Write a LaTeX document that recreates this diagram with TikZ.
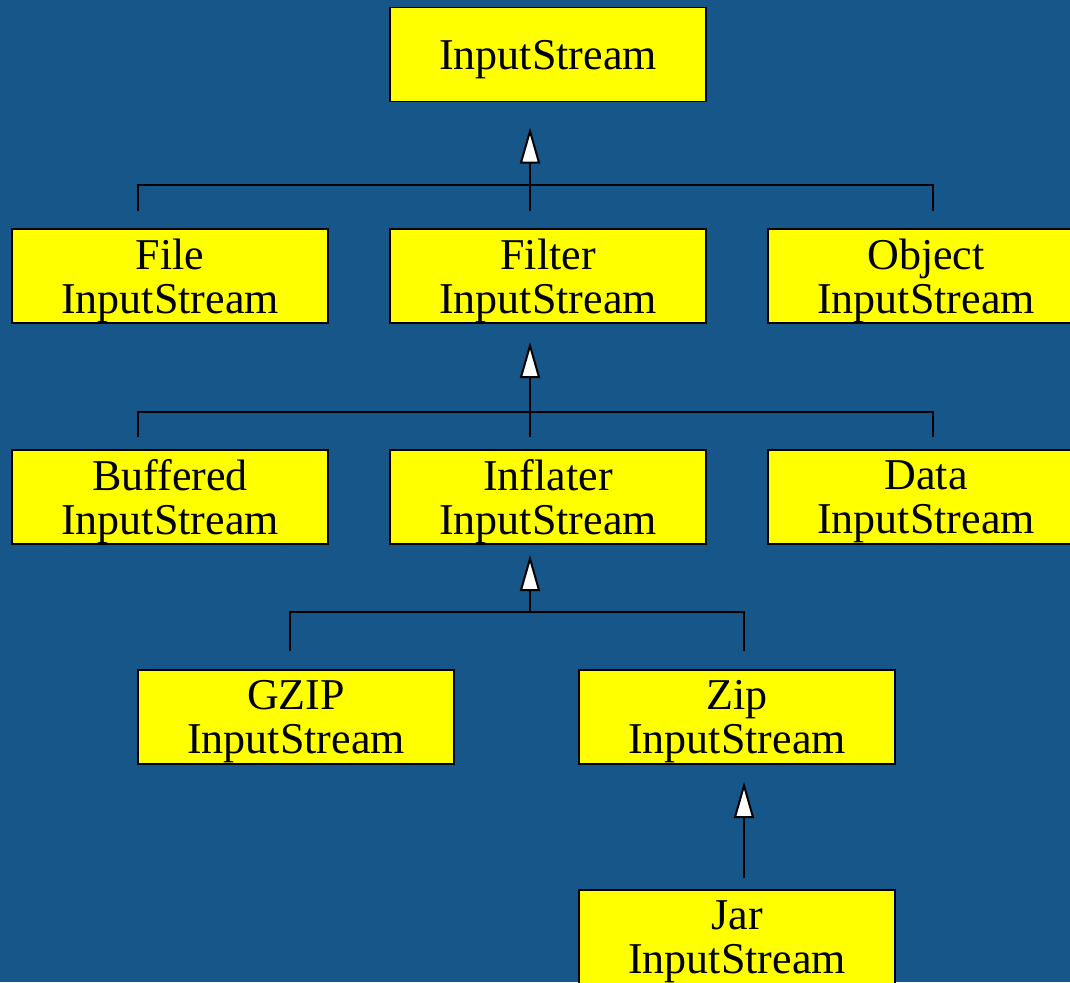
\documentclass[tikz,border=0pt]{standalone}
\usepackage{fontspec}
\setmainfont{Liberation Serif}
\usetikzlibrary{arrows.meta}
\definecolor{bgblue}{RGB}{22,86,136}
\definecolor{clsyellow}{RGB}{255,255,0}
\tikzset{
  cls/.style={draw=black,fill=clsyellow,line width=1.5pt,outer sep=0pt,inner sep=0pt,
    minimum width=316pt,minimum height=94pt,align=center,text depth=-1pt,
    font=\fontsize{44}{44}\selectfont},
  link/.style={line width=2pt},
  inherit/.style={link,-{Triangle[length=36pt,width=20pt,fill=white]}}
}

\begin{document}
\begin{tikzpicture}[x=1pt,y=1pt]
\fill[bgblue] (0,0) rectangle (1070,-982);
\clip (0,0) rectangle (1070,-982);
\node[cls] (istream) at (548,-54.5) {InputStream};
\node[cls] (file) at (170,-276) {File\\InputStream};
\node[cls] (filter) at (548,-276) {Filter\\InputStream};
\node[cls] (object) at (926,-276) {Object\\InputStream};
\node[cls] (buffered) at (170,-497) {Buffered\\InputStream};
\node[cls] (inflater) at (548,-497) {Inflater\\InputStream};
\node[cls] (data) at (926,-497) {Data\\InputStream};
\node[cls] (gzip) at (296,-717) {GZIP\\InputStream};
\node[cls] (zip) at (737,-717) {Zip\\InputStream};
\node[cls] (jar) at (737,-937) {Jar\\InputStream};

\draw[inherit] ([xshift=-18pt,yshift=18pt]filter.north) -- ([xshift=-18pt,yshift=-26pt]istream.south);
\draw[link] ([xshift=-32pt,yshift=18pt]file.north) |- ([xshift=7pt,yshift=44pt]object.north) -- ([xshift=7pt,yshift=18pt]object.north);

\draw[inherit] ([xshift=-18pt,yshift=13pt]inflater.north) -- ([xshift=-18pt,yshift=-19pt]filter.south);
\draw[link] ([xshift=-32pt,yshift=13pt]buffered.north) |- ([xshift=7pt,yshift=38pt]data.north) -- ([xshift=7pt,yshift=13pt]data.north);

\draw[inherit] ([xshift=-18pt,yshift=-68pt]inflater.south) -- ([xshift=-18pt,yshift=-11pt]inflater.south);
\draw[link] ([xshift=-6pt,yshift=19pt]gzip.north) |- ([xshift=7pt,yshift=58pt]zip.north) -- ([xshift=7pt,yshift=19pt]zip.north);

\draw[inherit] ([xshift=7pt,yshift=12pt]jar.north) -- ([xshift=7pt,yshift=-18pt]zip.south);
\end{tikzpicture}
\end{document}
